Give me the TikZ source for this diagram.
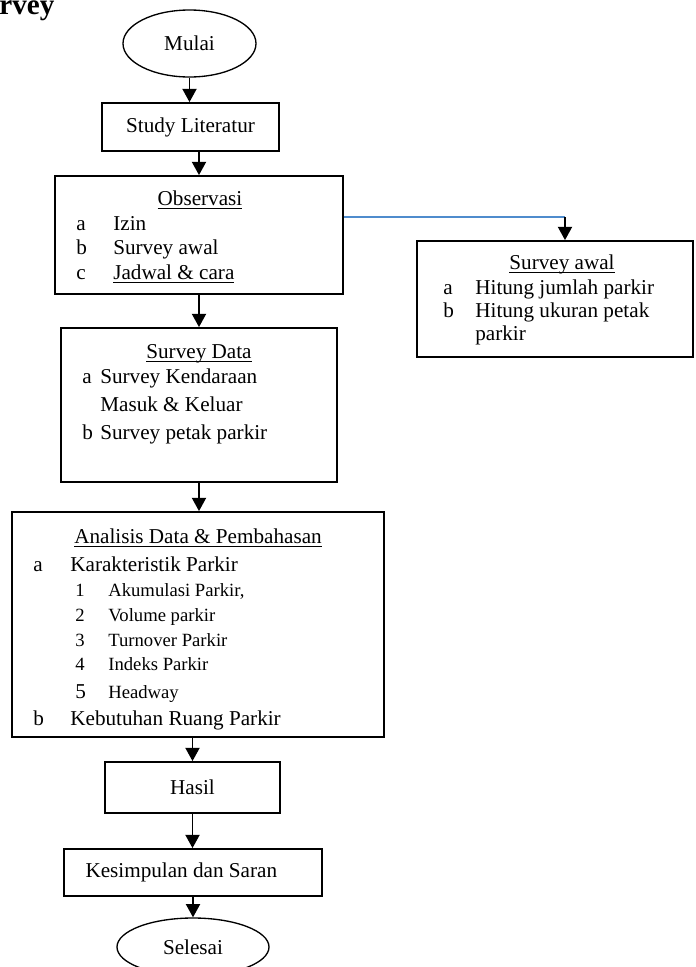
\documentclass[tikz,border=0pt]{standalone}
\usepackage{fontspec}
\setmainfont{Liberation Serif}
\usetikzlibrary{arrows.meta,shapes.geometric}

\definecolor{linkblue}{RGB}{79,140,205}
\newcommand{\ulin}[1]{\setbox0\hbox{#1}\rlap{\vrule height -1.5pt depth 2.1pt width \wd0}\box0}

\tikzset{
  box/.style={draw, rectangle, line width=1.1pt, inner sep=0pt},
  oval/.style={draw, ellipse, line width=0.8pt, inner sep=0pt},
  txt/.style={inner sep=0pt, anchor=base west},
  subtxt/.style={txt, font=\fontsize{11.2}{13}\selectfont},
  flow/.style={-{Triangle[width=8.5pt,length=8pt]}, line width=1pt},
}

\begin{document}
\begin{tikzpicture}[x=0.6pt, y=-0.6pt, font=\fontsize{12.7}{15}\selectfont]
  \useasboundingbox (0,0) rectangle (695,967);

  \node[txt, font=\fontsize{17.5}{20}\selectfont\bfseries] (judul) at (-1,14) {rvey};

  % main column
  \node[oval, minimum width=79.8pt, minimum height=40.2pt] (mulai) at (189.5,43.5) {Mulai};
  \node[box, minimum width=106.2pt, minimum height=28.8pt] (study) at (190.5,127) {Study Literatur};
  \node[box, minimum width=172.8pt, minimum height=70.8pt] (obs) at (199,235) {};
  \node[box, minimum width=165.6pt, minimum height=92.4pt] (sd) at (199,405) {};
  \node[box, minimum width=223.2pt, minimum height=135pt] (ana) at (198,624.5) {};
  \node[box, minimum width=105pt, minimum height=30.6pt] (hasil) at (192.5,787.5) {Hasil};
  \node[box, minimum width=154.8pt, minimum height=28.2pt] (kes) at (193,872.5) {\hspace*{-14pt}Kesimpulan dan Saran};
  \node[oval, minimum width=91.2pt, minimum height=34.8pt] (selesai) at (193,947) {Selesai};

  % side box
  \node[box, minimum width=165.6pt, minimum height=69.6pt] (awal) at (555,299) {};

  % Observasi
  \node[txt, anchor=base] (obst) at (200,205) {\ulin{Observasi}};
  \node[txt] (obsa) at (76,230) {a};
  \node[txt] (obsat) at (113,230) {Izin};
  \node[txt] (obsb) at (76,254) {b};
  \node[txt] (obsbt) at (113,254) {Survey awal};
  \node[txt] (obsc) at (76,279) {c};
  \node[txt] (obsct) at (113,279) {\ulin{Jadwal \& cara}};

  % Survey awal
  \node[txt, anchor=base] (awalt) at (562,269) {\ulin{Survey awal}};
  \node[txt] (awala) at (443,294) {a};
  \node[txt] (awalat) at (475,294) {Hitung jumlah parkir};
  \node[txt] (awalb) at (443,317) {b};
  \node[txt] (awalbt) at (475,317) {Hitung ukuran petak};
  \node[txt] (awalbt2) at (475,340) {parkir};

  % Survey Data
  \node[txt, anchor=base] (sdt) at (199,358) {\ulin{Survey Data}};
  \node[txt] (sda) at (82,383) {a};
  \node[txt] (sdat) at (100,383) {Survey Kendaraan};
  \node[txt] (sdat2) at (100,411) {Masuk \& Keluar};
  \node[txt] (sdb) at (82,439) {b};
  \node[txt] (sdbt) at (100,439) {Survey petak parkir};

  % Analisis
  \node[txt, anchor=base] (anat) at (198,543) {\ulin{Analisis Data \& Pembahasan}};
  \node[txt] (anaa) at (33,571) {a};
  \node[txt] (anaat) at (70,571) {Karakteristik Parkir};
  \foreach \n/\t/\y in {1/{Akumulasi Parkir,}/596, 2/{Volume parkir}/621,
                        3/{Turnover Parkir}/646, 4/{Indeks Parkir}/670} {
    \node[subtxt] (ana\n) at (75,\y) {\n};
    \node[subtxt] (anat\n) at (108,\y) {\t};
  }
  \node[txt] (ana5) at (75,698) {5};
  \node[subtxt] (anat5) at (108,698) {Headway};
  \node[txt] (anab) at (33,725) {b};
  \node[txt] (anabt) at (70,725) {Kebutuhan Ruang Parkir};

  % connectors
  \draw[flow] (mulai) -- (mulai |- study.north);
  \draw[flow] (obs.north |- study.south) -- (obs.north);
  \draw[flow] (obs) -- (sd);
  \draw[flow] (sd.south) -- (sd.south |- ana.north);
  \draw[flow] (hasil.north |- ana.south) -- (hasil.north);
  \draw[flow] (hasil.south) -- (hasil.south |- kes.north);
  \draw[flow] (kes) -- (selesai);

  \coordinate (belok) at (565,217);
  \draw[linkblue, line width=0.8pt] (obs.east |- belok) -- (belok);
  \draw[flow] (belok) -- (belok |- awal.north);
\end{tikzpicture}
\end{document}
